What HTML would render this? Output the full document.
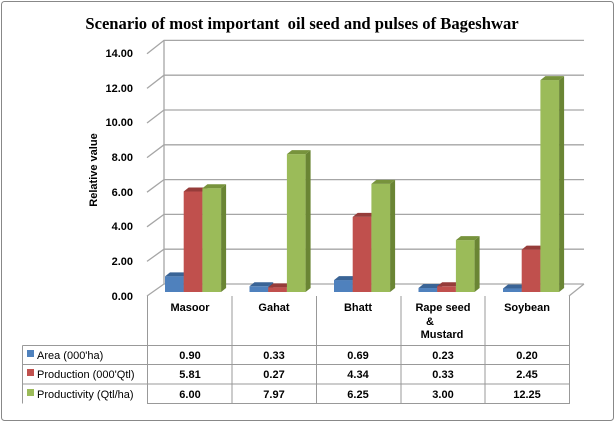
<!DOCTYPE html>
<html><head><meta charset="utf-8"><style>
body{margin:0;background:#fff}
svg{display:block;font-family:"Liberation Sans",sans-serif}
</style></head><body>
<svg id="s" width="616" height="423" viewBox="0 0 616 423" xmlns="http://www.w3.org/2000/svg">
<rect x="1.5" y="1.5" width="612" height="419" rx="3" fill="#fff" stroke="#888" stroke-width="1"/>
<text x="302" y="29" text-anchor="middle" font-family="Liberation Serif,serif" font-weight="bold" font-size="16.6">Scenario of most important &#160;oil seed and pulses of Bageshwar</text>
<g id="grid" stroke="#a6a6a6" stroke-width="1.3" fill="none"></g>
<g id="bars"></g>
<g font-size="11" font-weight="bold" text-anchor="end" fill="#000">
<text x="133" y="300">0.00</text><text x="133" y="265">2.00</text><text x="133" y="230">4.00</text><text x="133" y="196">6.00</text><text x="133" y="161">8.00</text><text x="133" y="126">10.00</text><text x="133" y="92">12.00</text><text x="133" y="57">14.00</text>
</g>
<text transform="translate(97,170) rotate(-90)" text-anchor="middle" font-size="11" font-weight="bold">Relative value</text>
<g stroke="#999" stroke-width="1" fill="none">
<path d="M147.5 296V403.5H569.5V296"/>
<path d="M22.5 345.5H569.5M22.5 364.5H569.5M22.5 384H569.5M22.5 345.5V403.5"/>
<path d="M232 296V403.5M316.5 296V403.5M401 296V403.5M485 296V403.5"/>
</g>
<g font-size="11" font-weight="bold" text-anchor="middle">
<text x="190" y="311">Masoor</text><text x="274" y="311">Gahat</text><text x="358" y="311">Bhatt</text><text x="443" y="311">Rape seed</text><text x="426" y="325" text-anchor="start">&amp;</text><text x="442" y="338">Mustard</text><text x="527" y="311">Soybean</text>
<text x="190" y="359">0.90</text><text x="274" y="359">0.33</text><text x="358" y="359">0.69</text><text x="443" y="359">0.23</text><text x="527" y="359">0.20</text>
<text x="190" y="378">5.81</text><text x="274" y="378">0.27</text><text x="358" y="378">4.34</text><text x="443" y="378">0.33</text><text x="527" y="378">2.45</text>
<text x="190" y="398">6.00</text><text x="274" y="398">7.97</text><text x="358" y="398">6.25</text><text x="443" y="398">3.00</text><text x="527" y="398">12.25</text>
</g>
<g font-size="11">
<rect x="27" y="350" width="7" height="7" fill="#4f81bd"/><text x="37" y="359">Area (000'ha)</text>
<rect x="27" y="369" width="7" height="7" fill="#c0504d"/><text x="37" y="378">Production (000'Qtl)</text>
<rect x="27" y="389" width="7" height="7" fill="#9bbb59"/><text x="37" y="398">Productivity (Qtl/ha)</text>
</g>
</svg>
<script>
var NS="http://www.w3.org/2000/svg",g=document.getElementById('grid'),b=document.getElementById('bars');
function el(p,t,a){var e=document.createElementNS(NS,t);for(var k in a)e.setAttribute(k,a[k]);p.appendChild(e);return e;}
for(var v=0;v<=14;v+=2){var yb=284-v*17.4,yf=296-v*17.3;
el(g,'path',{d:'M147 '+yf+'L164 '+yb+'H584'});}
el(g,'path',{d:'M164 40V284M569 296L584 284'});
var data=[[0.90,5.81,6.00],[0.33,0.27,7.97],[0.69,4.34,6.25],[0.23,0.33,3.00],[0.20,2.45,12.25]];
var cols=[['#4f81bd','#3a6496','#2f5a8c'],['#c0504d','#963c3a','#8c3532'],['#9bbb59','#77933c','#6a8534']];
var lefts=[147,231.5,316,400.5,485];
for(var i=0;i<5;i++)for(var j=0;j<3;j++){
var x=lefts[i]+18+j*18.7,w=18.7,h=Math.max(data[i][j]*17.3,3),y=292-h,dx=5,dy=4,c=cols[j];
el(b,'rect',{x:x,y:y,width:w,height:h,fill:c[0]});
el(b,'path',{d:'M'+(x+w)+' '+y+'l'+dx+' '+(-dy)+'v'+h+'l'+(-dx)+' '+dy+'z',fill:c[2]});
el(b,'path',{d:'M'+x+' '+y+'l'+dx+' '+(-dy)+'h'+w+'l'+(-dx)+' '+dy+'z',fill:c[1]});}
</script>
</body></html>
